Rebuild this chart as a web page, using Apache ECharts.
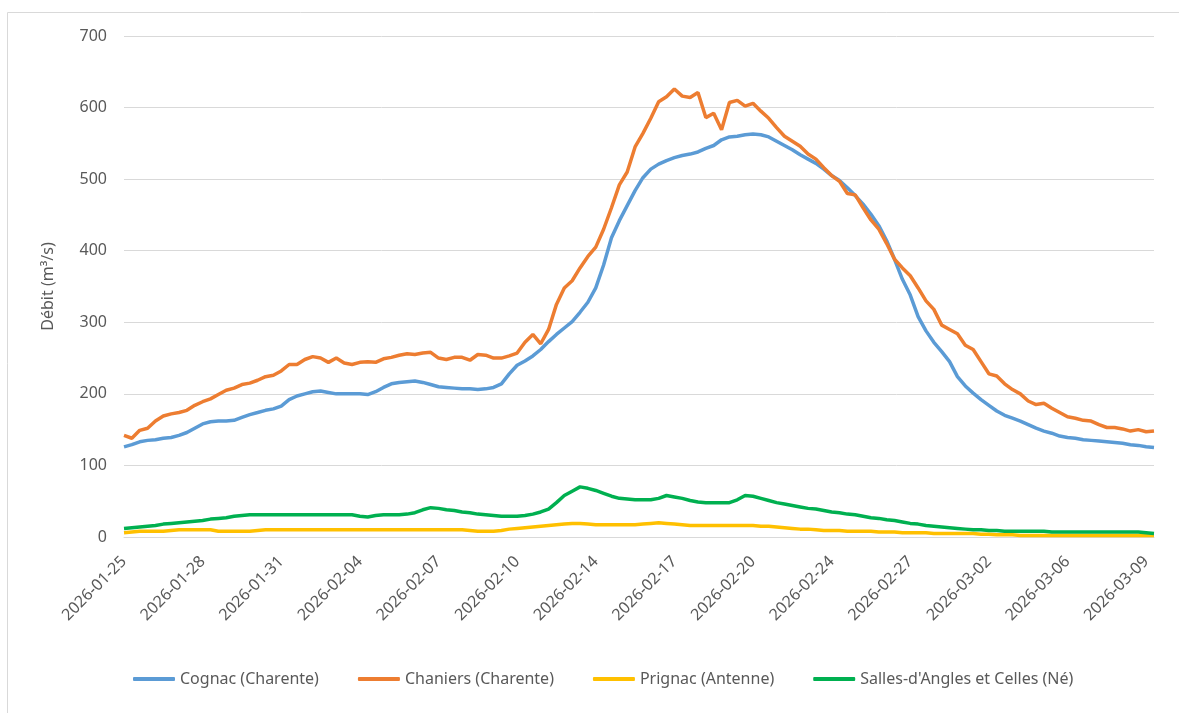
<!DOCTYPE html>
<html>
<head>
<meta charset="utf-8">
<title>Débit</title>
<script src="https://cdn.jsdelivr.net/npm/echarts@6/dist/echarts.min.js"></script>
<style>
    html, body { margin: 0; padding: 0; background: #fff; }
    #debit_chart { width: 1179px; height: 713px; }
</style>
</head>
<body>
<div id="debit_chart"></div>
<script>

// Data (one point every 8 hours, from 2026-01-25 00:00)
// ------------------------------

var startDate = '2026-01-25';
var stepHours = 8;
var pointCount = 132;

var seriesNames = ['Cognac (Charente)', 'Chaniers (Charente)', 'Prignac (Antenne)', "Salles-d'Angles et Celles (Né)"];

var cognac = [
    126, 129, 133, 135, 136, 138, 139, 142, 146, 152,
    158, 161, 162, 162, 163, 167, 171, 174, 177, 179,
    183, 192, 197, 200, 203, 204, 202, 200, 200, 200,
    200, 199, 203, 209, 214, 216, 217, 218, 216, 213,
    210, 209, 208, 207, 207, 206, 207, 209, 214, 228,
    240, 246, 253, 262, 273, 283, 292, 301, 314, 328,
    348, 380, 418, 442, 463, 484, 502, 514, 521, 526,
    530, 533, 535, 538, 543, 547, 555, 559, 560, 562,
    563, 562, 559, 553, 547, 541, 534, 528, 522, 514,
    505, 498, 488, 477, 465, 451, 435, 414, 388, 360,
    338, 308, 288, 272, 259, 245, 224, 211, 201, 192,
    184, 176, 170, 166, 162, 157, 152, 148, 145, 141,
    139, 138, 136, 135, 134, 133, 132, 131, 129, 128,
    126, 125
];

var chaniers = [
    142, 138, 149, 152, 162, 169, 172, 174, 177, 184,
    189, 193, 199, 205, 208, 213, 215, 219, 224, 226,
    232, 241, 241, 248, 252, 250, 244, 250, 243, 241,
    244, 245, 244, 249, 251, 254, 256, 255, 257, 258,
    250, 248, 251, 251, 247, 255, 254, 250, 250, 253,
    257, 272, 283, 270, 290, 325, 348, 358, 376, 392,
    405, 430, 460, 492, 510, 545, 564, 585, 608, 615,
    626, 616, 614, 621, 586, 592, 569, 607, 610, 602,
    606, 595, 585, 572, 560, 553, 546, 535, 528, 516,
    505, 497, 480, 478, 460, 443, 430, 410, 388, 376,
    365, 348, 330, 318, 296, 290, 284, 268, 262, 245,
    228, 225, 214, 206, 200, 190, 185, 187, 180, 174,
    168, 166, 163, 162, 157, 153, 153, 151, 148, 150,
    147, 148
];

var prignac = [
    6, 7, 8, 8, 8, 8, 9, 10, 10, 10,
    10, 10, 8, 8, 8, 8, 8, 9, 10, 10,
    10, 10, 10, 10, 10, 10, 10, 10, 10, 10,
    10, 10, 10, 10, 10, 10, 10, 10, 10, 10,
    10, 10, 10, 10, 9, 8, 8, 8, 9, 11,
    12, 13, 14, 15, 16, 17, 18, 19, 19, 18,
    17, 17, 17, 17, 17, 17, 18, 19, 20, 19,
    18, 17, 16, 16, 16, 16, 16, 16, 16, 16,
    16, 15, 15, 14, 13, 12, 11, 11, 10, 9,
    9, 9, 8, 8, 8, 8, 7, 7, 7, 6,
    6, 6, 6, 5, 5, 5, 5, 5, 5, 4,
    4, 3, 3, 3, 2, 2, 2, 2, 2, 2,
    2, 2, 2, 2, 2, 2, 2, 2, 2, 2,
    2, 2
];

var salles = [
    12, 13, 14, 15, 16, 18, 19, 20, 21, 22,
    23, 25, 26, 27, 29, 30, 31, 31, 31, 31,
    31, 31, 31, 31, 31, 31, 31, 31, 31, 31,
    29, 28, 30, 31, 31, 31, 32, 34, 38, 41,
    40, 38, 37, 35, 34, 32, 31, 30, 29, 29,
    29, 30, 32, 35, 39, 48, 58, 64, 70, 68,
    65, 61, 57, 54, 53, 52, 52, 52, 54, 58,
    56, 54, 51, 49, 48, 48, 48, 48, 52, 58,
    57, 54, 51, 48, 46, 44, 42, 40, 39, 37,
    35, 34, 32, 31, 29, 27, 26, 24, 23, 21,
    19, 18, 16, 15, 14, 13, 12, 11, 10, 10,
    9, 9, 8, 8, 8, 8, 8, 8, 7, 7,
    7, 7, 7, 7, 7, 7, 7, 7, 7, 7,
    6, 5
];

var colors = ['#5B9BD5', '#ED7D31', '#FFC000', '#00B050'];


// Setup module
// ------------------------------

var DebitChart = function() {

    // Build time categories (every 8 hours)
    var _buildCategories = function() {
        var list = [];
        var t0 = new Date(startDate + 'T00:00:00Z').getTime();
        for (var i = 0; i < pointCount; i++) {
            var d = new Date(t0 + i * stepHours * 3600 * 1000);
            list.push(d.toISOString().slice(0, 16).replace('T', ' '));
        }
        return list;
    };

    var _initChart = function() {
        if (typeof echarts == 'undefined') {
            console.warn('Warning - echarts.min.js is not loaded.');
            return;
        }

        var chart_element = document.getElementById('debit_chart');
        var chart = echarts.init(chart_element);
        var font = '"Noto Sans", "Open Sans", sans-serif';
        var values = [cognac, chaniers, prignac, salles];

        chart.setOption({
            animation: false,
            color: colors,
            textStyle: {
                fontFamily: font
            },

            // Chart area border
            graphic: [{
                type: 'rect',
                shape: { x: 7.5, y: 12.5, width: 1190, height: 720 },
                style: { fill: null, stroke: '#D9D9D9', lineWidth: 1 },
                silent: true
            }],

            grid: {
                left: 124,
                right: 25,
                top: 36,
                bottom: 176
            },

            legend: {
                left: 133,
                top: 671,
                padding: 0,
                icon: 'roundRect',
                itemWidth: 42,
                itemHeight: 4,
                itemGap: 39,
                textStyle: {
                    color: '#595959',
                    fontSize: 16,
                    fontFamily: font
                },
                data: seriesNames
            },

            xAxis: {
                type: 'category',
                boundaryGap: false,
                data: _buildCategories(),
                axisLine: { lineStyle: { color: '#D9D9D9', width: 1 } },
                axisTick: { show: false },
                axisLabel: {
                    interval: 9,
                    rotate: 45,
                    margin: 22,
                    color: '#595959',
                    fontSize: 16,
                    fontFamily: font,
                    formatter: function(v) { return v.slice(0, 10); }
                },
                splitLine: { show: false }
            },

            yAxis: {
                type: 'value',
                min: 0,
                max: 700,
                interval: 100,
                name: 'Débit (m³/s)',
                nameLocation: 'middle',
                nameGap: 68,
                nameTextStyle: {
                    color: '#595959',
                    fontSize: 16,
                    fontFamily: font
                },
                axisLine: { show: false },
                axisTick: { show: false },
                axisLabel: {
                    margin: 17,
                    color: '#595959',
                    fontSize: 16,
                    fontFamily: font
                },
                splitLine: { lineStyle: { color: '#D9D9D9', width: 1 } }
            },

            series: seriesNames.map(function(name, k) {
                return {
                    name: name,
                    type: 'line',
                    data: values[k],
                    symbol: 'none',
                    lineStyle: { width: 3.5 },
                    emphasis: { disabled: true }
                };
            })
        });

        window.addEventListener('resize', function() {
            chart.resize();
        });
    };

    return {
        init: function() {
            _initChart();
        }
    };
}();


// Initialize module
// ------------------------------

document.addEventListener('DOMContentLoaded', function() {
    DebitChart.init();
});
</script>
</body>
</html>
